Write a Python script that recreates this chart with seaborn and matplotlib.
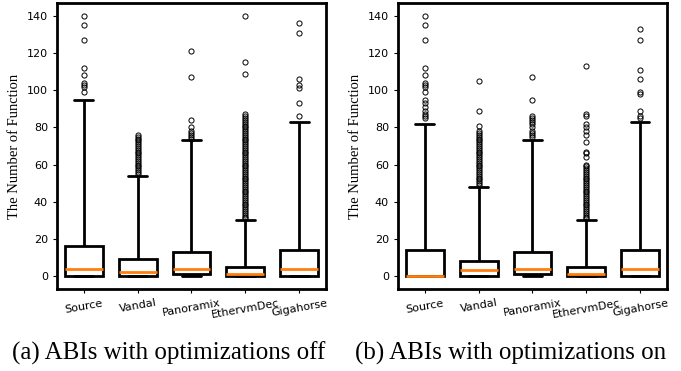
import pandas as pd
import seaborn as sns
import matplotlib.pyplot as plt

tools = ["Source", "Vandal", "Panoramix", "EthervmDec", "Gigahorse"]

# box summaries (whiskers reach 5 x IQR)
off_low = [0, 0, 0, 0, 0]
off_q1 = [0, 0, 1, 0, 0]
off_med = [4, 2, 4, 1, 4]
off_q3 = [16, 9, 13, 5, 14]
off_high = [95, 54, 73, 30, 83]
off_fliers = [
    [99, 102, 103, 104, 108, 112, 127, 135, 140],
    [55, 56, 57, 58, 59, 60, 61, 62, 63, 64, 65, 66, 67, 68, 69, 70,
     71, 72, 73, 74, 75, 76],
    [74, 75, 76, 77, 78, 80, 84, 107, 121],
    [31, 32, 33, 34, 35, 36, 37, 38, 39, 40, 41, 42, 43, 44, 45, 46,
     47, 48, 49, 50, 51, 52, 53, 54, 55, 56, 57, 58, 59, 60, 61, 62,
     63, 64, 65, 66, 67, 68, 69, 70, 71, 72, 73, 74, 75, 76, 77, 78,
     79, 80, 81, 82, 83, 84, 85, 86, 87, 109, 115, 140],
    [86, 93, 101, 103, 106, 131, 136],
]

on_low = [0, 0, 0, 0, 0]
on_q1 = [0, 0, 1, 0, 0]
on_med = [0, 3, 4, 1, 4]
on_q3 = [14, 8, 13, 5, 14]
on_high = [82, 48, 73, 30, 83]
on_fliers = [
    [85, 86, 87, 89, 91, 93, 95, 99, 102, 103, 104, 108, 112, 127, 135, 140],
    [49, 50, 51, 52, 53, 54, 55, 56, 57, 58, 59, 60, 61, 62, 63, 64,
     65, 66, 67, 68, 69, 70, 71, 72, 73, 74, 75, 76, 77, 78, 81, 89, 105],
    [75, 76, 77, 78, 80, 82, 83, 84, 85, 86, 95, 107],
    [31, 32, 33, 34, 35, 36, 37, 38, 39, 40, 41, 42, 43, 44, 45, 46,
     47, 48, 49, 50, 51, 52, 53, 54, 55, 56, 57, 58, 59, 60, 64, 66,
     67, 72, 76, 78, 80, 82, 86, 87, 113],
    [85, 86, 89, 98, 99, 106, 111, 127, 133],
]


def make_frame(low, q1, med, q3, high, fliers, n=400):
    # rebuild raw samples that give exactly these quartiles
    rows = []
    for i, t in enumerate(tools):
        vals = [low[i]] + [q1[i]] * n + [med[i]] * n + [q3[i]] * n + [high[i]] + fliers[i]
        rows += [(t, v) for v in vals]
    return pd.DataFrame(rows, columns=["tool", "value"])


df_off = make_frame(off_low, off_q1, off_med, off_q3, off_high, off_fliers)
df_on = make_frame(on_low, on_q1, on_med, on_q3, on_high, on_fliers)

sns.set_style("ticks")
plt.rcParams["font.family"] = ["DejaVu Sans"]
plt.rcParams["axes.edgecolor"] = "black"
plt.rcParams["xtick.color"] = "black"
plt.rcParams["ytick.color"] = "black"
plt.rcParams["text.color"] = "black"
plt.rcParams["axes.labelcolor"] = "black"

fig = plt.figure(figsize=(6.81, 3.71), dpi=100)
ax1 = fig.add_axes([0.0837, 0.221, 0.395, 0.771])
ax2 = fig.add_axes([0.5844, 0.221, 0.395, 0.771])

for ax, df in [(ax1, df_off), (ax2, df_on)]:
    sns.boxplot(data=df, x="tool", y="value", order=tools, ax=ax,
                whis=5, width=0.7, color="white", linecolor="black",
                linewidth=2, saturation=1,
                medianprops={"color": "#ff7f0e", "linewidth": 2},
                flierprops={"marker": "o", "markersize": 3.7,
                            "markerfacecolor": "none",
                            "markeredgecolor": "black",
                            "markeredgewidth": 0.7})
    ax.set_xlabel("")
    ax.set_ylabel("The Number of Function", family=["Liberation Serif"], fontsize=10.5)
    ax.set_yticks([0, 20, 40, 60, 80, 100, 120, 140])
    ax.set_ylim(-7, 147)
    ax.set_xlim(-0.5, 4.5)
    ax.tick_params(axis="both", labelsize=8, length=3, width=0.8, colors="black")
    for lab in ax.get_xticklabels():
        lab.set_rotation(10)
    for s in ax.spines.values():
        s.set_linewidth(2)
        s.set_color("black")
        s.set_visible(True)

fig.text(169 / 681, 1 - 353 / 371, "(a) ABIs with optimizations off",
         family=["Liberation Serif"], fontsize=18, ha="center", va="center")
fig.text(511 / 681, 1 - 353 / 371, "(b) ABIs with optimizations on",
         family=["Liberation Serif"], fontsize=18, ha="center", va="center")

fig.savefig("out.png", dpi=100)
